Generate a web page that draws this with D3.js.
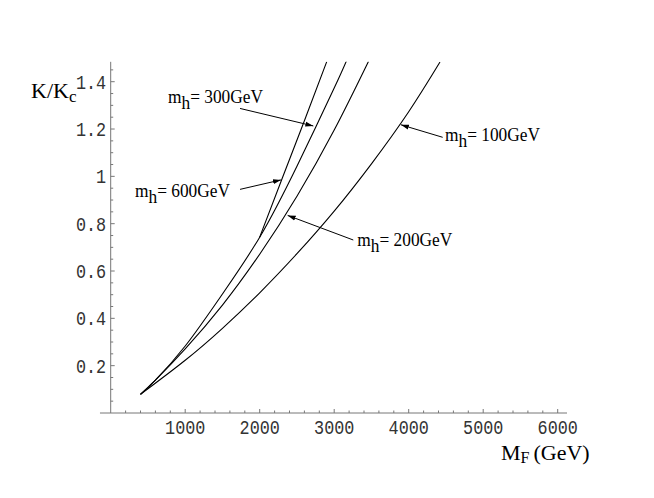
<!DOCTYPE html>
<html>
<head>
<meta charset="utf-8">
<script src="https://cdn.jsdelivr.net/npm/d3@7"></script>
<style>
  body { margin: 0; background: #fff; }
  svg { display: block; }
  .tick-label { font-family: "Liberation Mono", "DejaVu Sans Mono", monospace; font-size: 21px; fill: #333; }
  .serif { font-family: "Liberation Serif", "Times New Roman", serif; fill: #000; }
</style>
</head>
<body>
<svg id="chart"></svg>
<script>
// values: [M_F in GeV, K/Kc]
const curve100 = [[400,0.079],[1000,0.223],[1500,0.358],[2000,0.508],[2500,0.673],[3000,0.853],[3500,1.053],[4000,1.273],[4420,1.483]];
const curve200 = [[400,0.079],[600,0.139],[1000,0.271],[1500,0.456],[2000,0.671],[2500,0.916],[3000,1.196],[3460,1.486]];
const curve300 = [[400,0.079],[600,0.139],[1000,0.283],[1500,0.503],[2000,0.743],[2500,1.043],[3000,1.373],[3170,1.492]];
const curve600 = [[2000,0.743],[2300,0.99],[2600,1.235],[2900,1.485]];

const xTicks = [1000, 2000, 3000, 4000, 5000, 6000];
const yTicks = [0.2, 0.4, 0.6, 0.8, 1, 1.2, 1.4];
const yTickLabels = ["0.2", "0.4", "0.6", "0.8", "1", "1.2", "1.4"];

// annotation labels: Higgs mass, text anchor, arrow tail and tip (data units)
const labelMasses = ["300", "600", "200", "100"];
const labelAnchors = [[769,1.308],[326,0.914],[3310,0.706],[4487,1.150]];
const arrowTails = [[1736,1.287],[1736,0.945],[3256,0.731],[4456,1.165]];
const arrowTips = [[2720,1.213],[2285,0.985],[2375,0.835],[3895,1.218]];

const W = 654, H = 498;
const svg = d3.select("#chart").attr("width", W).attr("height", H);
svg.append("rect").attr("width", W).attr("height", H).attr("fill", "#fff");

const x = d3.scaleLinear().domain([0, 6000]).range([110.7, 557.7]);
const y = d3.scaleLinear().domain([0, 1.4]).range([413, 81.7]);
const xExtent = [-144, 6125];
const yExtent = [0, 1.484];

// axes
const axes = svg.append("g").attr("stroke", "#777").attr("stroke-width", 1).attr("fill", "none");
axes.append("line")
    .attr("x1", x(xExtent[0])).attr("x2", x(xExtent[1]))
    .attr("y1", y(0)).attr("y2", y(0));
axes.append("line")
    .attr("x1", x(0)).attr("x2", x(0))
    .attr("y1", y(yExtent[0])).attr("y2", y(yExtent[1]));

const xMinor = d3.range(200, 6001, 200).filter(v => v % 1000 !== 0);
const yMinor = d3.range(1, 30).map(i => i * 0.05).filter(v => Math.abs(v * 5 - Math.round(v * 5)) > 1e-6);

axes.selectAll(".xmaj").data(xTicks).join("line")
    .attr("x1", d => x(d)).attr("x2", d => x(d))
    .attr("y1", y(0)).attr("y2", y(0) - 4);
axes.selectAll(".xmin").data(xMinor).join("line")
    .attr("x1", d => x(d)).attr("x2", d => x(d))
    .attr("y1", y(0)).attr("y2", y(0) - 2.5);
axes.selectAll(".ymaj").data(yTicks).join("line")
    .attr("x1", x(0)).attr("x2", x(0) + 4)
    .attr("y1", d => y(d)).attr("y2", d => y(d));
axes.selectAll(".ymin").data(yMinor).join("line")
    .attr("x1", x(0)).attr("x2", x(0) + 2.5)
    .attr("y1", d => y(d)).attr("y2", d => y(d));

// tick labels (narrow monospace, like the original)
svg.append("g").selectAll("text").data(xTicks).join("text")
    .attr("class", "tick-label")
    .attr("text-anchor", "middle")
    .attr("transform", d => `translate(${x(d)},${y(0) + 20.5}) scale(0.8,1)`)
    .text(d => d);
svg.append("g").selectAll("text").data(yTicks).join("text")
    .attr("class", "tick-label")
    .attr("text-anchor", "end")
    .attr("transform", d => `translate(${x(0) - 4.5},${y(d) + 7}) scale(0.8,1)`)
    .text((d, i) => yTickLabels[i]);

// axis titles
const yTitle = svg.append("text").attr("class", "serif")
    .attr("x", 31).attr("y", 98).style("font-size", "22px");
yTitle.append("tspan").text("K/K");
yTitle.append("tspan").attr("dy", 4).style("font-size", "17px").text("c");

const xTitle = svg.append("text").attr("class", "serif")
    .attr("x", 501).attr("y", 460).style("font-size", "22px");
xTitle.append("tspan").text("M");
xTitle.append("tspan").attr("dy", 3).style("font-size", "16px").text("F");
xTitle.append("tspan").attr("dy", -3).attr("dx", 4).text("(GeV)");

// curves
svg.append("defs").append("clipPath").attr("id", "plotClip")
  .append("rect")
    .attr("x", x(0)).attr("y", y(yExtent[1]))
    .attr("width", x(xExtent[1]) - x(0)).attr("height", y(0) - y(yExtent[1]));

const line = d3.line()
    .x(d => x(d[0]))
    .y(d => y(d[1]))
    .curve(d3.curveNatural);

svg.append("g").attr("clip-path", "url(#plotClip)")
  .selectAll("path")
  .data([curve100, curve200, curve300, curve600])
  .join("path")
    .attr("d", line)
    .attr("fill", "none")
    .attr("stroke", "#000")
    .attr("stroke-width", 1.1);

// arrows with small filled heads
svg.select("defs").append("marker")
    .attr("id", "head")
    .attr("markerUnits", "userSpaceOnUse")
    .attr("viewBox", "0 -3 8 6")
    .attr("refX", 8).attr("refY", 0)
    .attr("markerWidth", 8).attr("markerHeight", 6)
    .attr("orient", "auto")
  .append("path")
    .attr("d", "M0,-2.5L8,0L0,2.5Z")
    .attr("fill", "#000");

svg.append("g").selectAll("line").data(arrowTips).join("line")
    .attr("x1", (d, i) => x(arrowTails[i][0])).attr("y1", (d, i) => y(arrowTails[i][1]))
    .attr("x2", d => x(d[0])).attr("y2", d => y(d[1]))
    .attr("stroke", "#000").attr("stroke-width", 1)
    .attr("marker-end", "url(#head)");

// labels m_h = ...GeV
labelMasses.forEach((m, i) => {
  const t = svg.append("text").attr("class", "serif")
      .attr("transform", `translate(${x(labelAnchors[i][0])},${y(labelAnchors[i][1])}) scale(0.89,1)`)
      .style("font-size", "19.5px");
  t.append("tspan").text("m");
  t.append("tspan").attr("dy", 6).text("h");
  t.append("tspan").attr("dy", -6).text("= " + m + "GeV");
});
</script>
</body>
</html>
